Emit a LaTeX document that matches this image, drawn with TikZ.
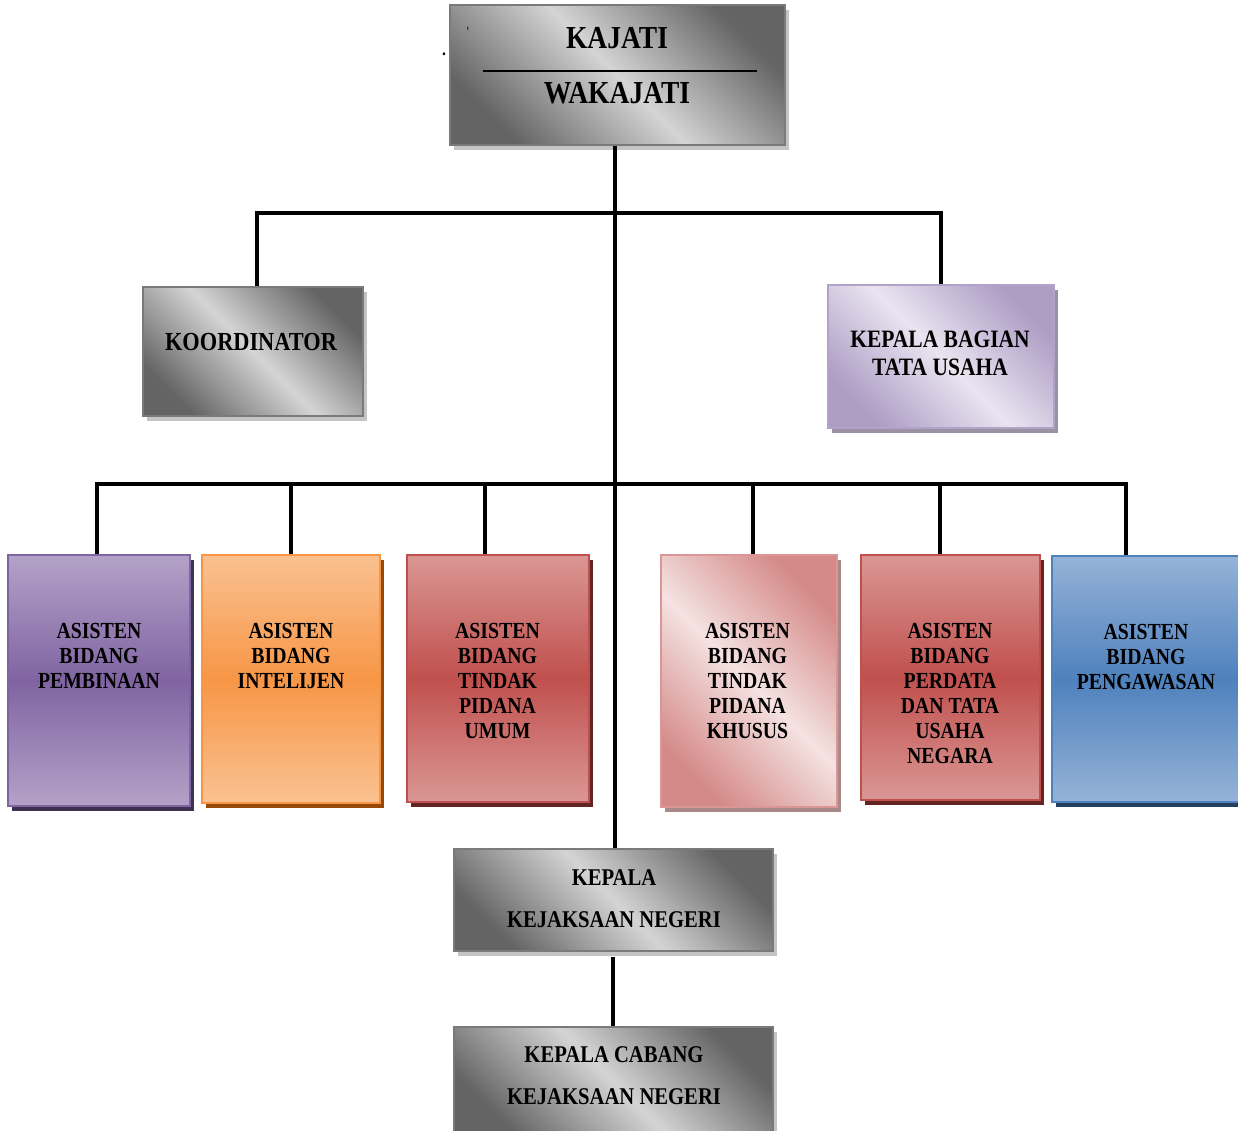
\documentclass[tikz,border=0pt]{standalone}
\usepackage{fontspec}
\newfontfamily\orgfont{Liberation Serif}[FakeStretch=0.86]
\usetikzlibrary{shadows}
\newcommand\orgsz[2]{\fontsize{#1}{#2}\selectfont}
\definecolor{gdark}{HTML}{646464}
\definecolor{glight}{HTML}{D4D4D4}
\definecolor{gborder}{HTML}{7A7A7A}
\definecolor{gshadow}{HTML}{C4C4C4}
\definecolor{lavdark}{HTML}{AE9DC5}
\definecolor{lavlight}{HTML}{E9E4F0}
\definecolor{lavborder}{HTML}{B3A2C7}
\definecolor{lavshadow}{HTML}{9A92A3}
\definecolor{purlight}{HTML}{B3A2C8}
\definecolor{purdark}{HTML}{8064A2}
\definecolor{purshadow}{HTML}{3F3151}
\definecolor{orglight}{HTML}{FAC191}
\definecolor{orgdark}{HTML}{F79646}
\definecolor{orgshadow}{HTML}{984807}
\definecolor{redlight}{HTML}{DA9795}
\definecolor{reddark}{HTML}{C0504D}
\definecolor{redshadow}{HTML}{632523}
\definecolor{pinkdark}{HTML}{D48A88}
\definecolor{pinklight}{HTML}{F4E2E1}
\definecolor{pinkborder}{HTML}{D99694}
\definecolor{pinkshadow}{HTML}{A8898A}
\definecolor{bluelight}{HTML}{95B3D7}
\definecolor{bluedark}{HTML}{4F81BD}
\definecolor{blueshadow}{HTML}{243F60}
\tikzset{
  connector/.style={line width=3.4pt, draw=black, line join=miter},
  boxbase/.style={inner sep=0pt, line width=2.2pt},
  graybox/.style={boxbase, draw=gborder,
    general shadow={fill=gshadow, shadow xshift=4pt, shadow yshift=-5pt},
    top color=gdark, bottom color=gdark, middle color=glight, shading angle=-45},
  lavbox/.style={boxbase, draw=lavborder,
    general shadow={fill=lavshadow, shadow xshift=4pt, shadow yshift=-5pt},
    top color=lavdark, bottom color=lavdark, middle color=lavlight, shading angle=-45},
  vbox/.style n args={3}{boxbase, draw=#2,
    general shadow={fill=#3, shadow xshift=4pt, shadow yshift=-5pt},
    top color=#1, bottom color=#1, middle color=#2},
  pinkbox/.style={boxbase, draw=pinkborder,
    general shadow={fill=pinkshadow, shadow xshift=4pt, shadow yshift=-5pt},
    top color=pinkdark, bottom color=pinkdark, middle color=pinklight, shading angle=-45},
  lbl/.style={inner sep=0pt, align=center, text=black},
  asfont/.style={lbl, font=\orgfont\bfseries\orgsz{23}{25}, anchor=north},
}
\begin{document}
\begin{tikzpicture}[x=1pt,y=-1pt]
\clip (0,0) rectangle (1238,1130);
\fill[white] (0,0) rectangle (1238,1130);

% boxes
\node[graybox, minimum width=335pt, minimum height=140pt] (kajati) at (617.5,75) {};
\node[graybox, minimum width=220pt, minimum height=129pt] (koord) at (253,351.5) {};
\node[lavbox, minimum width=226pt, minimum height=143pt] (kbtu) at (941,356.5) {};
\node[vbox={purlight}{purdark}{purshadow}, minimum width=182pt, minimum height=251pt] (a1) at (99,680.5) {};
\node[vbox={orglight}{orgdark}{orgshadow}, minimum width=178pt, minimum height=248pt] (a2) at (291,679) {};
\node[vbox={redlight}{reddark}{redshadow}, minimum width=182pt, minimum height=247pt] (a3) at (498,678.5) {};
\node[pinkbox, minimum width=176pt, minimum height=252pt] (a4) at (749,681) {};
\node[vbox={redlight}{reddark}{redshadow}, minimum width=179pt, minimum height=245pt] (a5) at (950.5,677.5) {};
\node[vbox={bluelight}{bluedark}{blueshadow}, minimum width=192pt, minimum height=246pt] (a6) at (1148,679) {};
\node[graybox, minimum width=319pt, minimum height=102pt] (kepala) at (613.5,900) {};
\node[graybox, minimum width=319pt, minimum height=110pt] (cabang) at (613.5,1082) {};

% divider in top box
\draw[line width=2pt] (483,71) -- (757,71);

% texts
\node[lbl, font=\orgfont\bfseries\orgsz{32}{32}, anchor=base] (tkajati) at (617,48) {KAJATI};
\node[lbl, font=\orgfont\bfseries\orgsz{32}{32}, anchor=base] (twakajati) at (617,103) {WAKAJATI};
\node[lbl, font=\orgfont\bfseries\orgsz{18}{18}, anchor=base] (tdot) at (444,55) {.};
\node[lbl, font=\orgfont\orgsz{14}{14}, anchor=base] (ttick) at (468,36) {'};
\node[lbl, font=\orgfont\bfseries\orgsz{26}{26}, anchor=base] (tkoord) at (251,350) {KOORDINATOR};
\node[lbl, font=\orgfont\bfseries\orgsz{25}{28}, anchor=north] (tkbtu) at (940,331) {KEPALA BAGIAN\\TATA USAHA};
\node[asfont] (t1) at (99,623) {ASISTEN\\BIDANG\\PEMBINAAN};
\node[asfont] (t2) at (291,623) {ASISTEN\\BIDANG\\INTELIJEN};
\node[asfont] (t3) at (497.5,623) {ASISTEN\\BIDANG\\TINDAK\\PIDANA\\UMUM};
\node[asfont] (t4) at (747.5,623) {ASISTEN\\BIDANG\\TINDAK\\PIDANA\\KHUSUS};
\node[asfont] (t5) at (950,623) {ASISTEN\\BIDANG\\PERDATA\\DAN TATA\\USAHA\\NEGARA};
\node[asfont] (t6) at (1146,624) {ASISTEN\\BIDANG\\PENGAWASAN};
\node[lbl, font=\orgfont\bfseries\orgsz{24}{42}, anchor=north] (tkepala) at (614,869) {KEPALA\\KEJAKSAAN NEGERI};
\node[lbl, font=\orgfont\bfseries\orgsz{24}{42}, anchor=north] (tcabang) at (614,1046) {KEPALA CABANG\\KEJAKSAAN NEGERI};

% connectors
\coordinate (j1) at (615,213);
\coordinate (k1) at (257,213);
\coordinate (k2) at (941,213);
\coordinate (b1) at (97,484);
\coordinate (b2) at (291,484);
\coordinate (b3) at (485,484);
\coordinate (b4) at (753,484);
\coordinate (b5) at (940,484);
\coordinate (b6) at (1126,484);
\coordinate (c1) at (613,957);

\draw[connector] (kajati.south -| j1) -- (kepala.north -| j1);
\draw[connector] (koord.north -| k1) -- (k1) -- (k2) -- (kbtu.north -| k2);
\draw[connector] (a1.north -| b1) -- (b1) -- (b6) -- (a6.north -| b6);
\draw[connector] (b2) -- (a2.north -| b2);
\draw[connector] (b3) -- (a3.north -| b3);
\draw[connector] (b4) -- (a4.north -| b4);
\draw[connector] (b5) -- (a5.north -| b5);
\draw[connector] (c1) -- (cabang.north -| c1);
\end{tikzpicture}
\end{document}
